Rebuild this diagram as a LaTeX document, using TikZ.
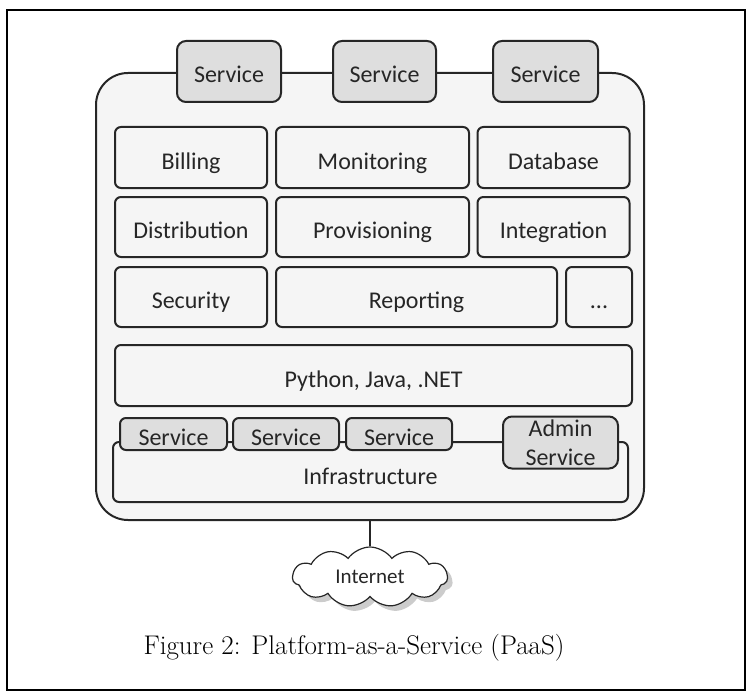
\documentclass[tikz,border=0pt]{standalone}
\usepackage{fontspec}
\newfontfamily\boxfont{Carlito}
\usetikzlibrary{positioning,shapes.symbols,shadows}

\begin{document}
\begin{tikzpicture}[x=1pt,y=-1pt,line width=2pt,
                    layer node/.style={rectangle,rounded corners=6pt,draw=black!85,fill=black!4,
                      text height=28pt,text depth=5pt,
                      font=\boxfont\fontsize{24}{28}\selectfont,text=black!85},
                    service node/.style={layer node,rounded corners=9pt,fill=black!13,inner sep=2pt},
                    small service/.style={service node,rounded corners=6pt,inner sep=0pt,
                      text height=24pt,text depth=2pt,minimum height=32}]

  \useasboundingbox (0,0) rectangle (751,695);
  \draw[black] (7,10) rectangle (745,690);

  \node[draw=black!85,fill=black!4,rounded corners=32pt,minimum width=548,minimum height=447] (platform) at (370,296.5) {};

  % services on top of the platform
  \node[service node,minimum width=104,minimum height=61] (service1) at (229,71.5) {Service};
  \node[service node,minimum width=103,minimum height=61] (service2) at (384.5,71.5) {Service};
  \node[service node,minimum width=105,minimum height=61] (service3) at (545.5,71.5) {Service};

  \node[layer node,minimum width=152,minimum height=61] (billing) at (191,157.5) {Billing};
  \node[layer node,minimum width=193,minimum height=61] (monitoring) [right=7pt of billing] {Monitoring};
  \node[layer node,minimum width=152,minimum height=61] (database) [right=6.5pt of monitoring] {Database};

  \node[layer node,minimum width=152,minimum height=60] (distribution) [below=7pt of billing] {Distribution};
  \node[layer node,minimum width=193,minimum height=60] (provisioning) [right=7pt of distribution] {Provisioning};
  \node[layer node,minimum width=152,minimum height=60] (integration) [right=6.5pt of provisioning] {Integration};

  \node[layer node,minimum width=152,minimum height=60] (security) [below=8pt of distribution] {Security};
  \node[layer node,minimum width=281,minimum height=60] (reporting) [right=7pt of security] {Reporting};
  \node[layer node,minimum width=66,minimum height=60] (more) [right=7pt of reporting] {...};

  \node[layer node,minimum width=517,minimum height=61] (languages) at (373.5,375.5) {Python, Java, .NET};

  % infrastructure with its services
  \node[layer node,minimum width=515,minimum height=60,text height=30pt] (infrastructure) at (370.5,472) {Infrastructure};
  \node[small service,minimum width=107] (infra1) at (173.5,434) {Service};
  \node[small service,minimum width=106] (infra2) at (286,434) {Service};
  \node[small service,minimum width=106] (infra3) at (399,434) {Service};
  \node[service node,align=center,inner sep=0pt,text height=,text depth=,minimum width=115,minimum height=52,
        font=\boxfont\fontsize{24}{29}\selectfont] (admin) at (560.5,442.5) {Admin\\Service};

  \node[cloud,cloud puffs=11,cloud puff arc=110,aspect=2.6,draw=black!85,line width=1.2pt,fill=white,
        drop shadow={shadow xshift=5pt,shadow yshift=-5pt,fill=black!40},
        minimum width=155,minimum height=60,inner sep=0pt,
        font=\boxfont\fontsize{21}{25}\selectfont,text=black!85] (internet) at (370,577) {Internet};

  \path (platform) edge[black!85] (internet);

  \node[font=\fontsize{27}{32}\selectfont] (caption) at (354,648) {Figure 2: Platform-as-a-Service (PaaS)};
\end{tikzpicture}
\end{document}
